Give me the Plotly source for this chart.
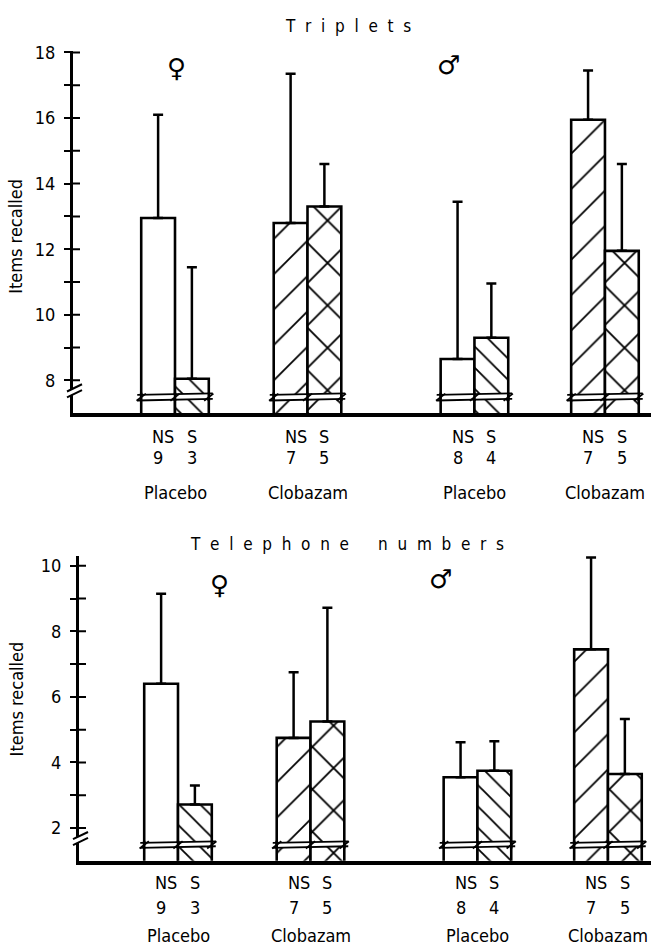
import plotly.graph_objects as go

# ---- data -------------------------------------------------------------
groups = ["Placebo", "Clobazam", "Placebo", "Clobazam"]
subgroups = ["NS", "S"]
n_ns = [9, 7, 8, 7]
n_s = [3, 5, 4, 5]

# Triplets: mean and SD of items recalled
trip_ns_mean = [12.95, 12.8, 8.65, 15.95]
trip_ns_sd = [3.15, 4.55, 4.8, 1.5]
trip_s_mean = [8.05, 13.3, 9.3, 11.95]
trip_s_sd = [3.4, 1.3, 1.65, 2.65]

# Telephone numbers: mean and SD of items recalled
tel_ns_mean = [6.4, 4.75, 3.55, 7.45]
tel_ns_sd = [2.75, 2.0, 1.07, 2.8]
tel_s_mean = [2.72, 5.25, 3.75, 3.65]
tel_s_sd = [0.58, 3.47, 0.9, 1.68]

# ---- layout constants ---------------------------------------------------
W, H = 651, 948
FONT = "DejaVu Sans Condensed, DejaVu Sans, sans-serif"
GROUP_POS = [1.0, 2.0, 3.26, 4.245]   # x position of each NS|S pair
BW = 0.255                            # bar width (x units)
PPU_X = 132.5                         # pixels per x unit
PPU_Y = 33.1                          # pixels per y unit
NS_PATTERN = ["", "/", "", "/"]
S_PATTERN = ["\\", "x", "\\", "x"]
NS_SIZE = [25, 25, 25, 25]
S_SIZE = [15, 30, 15, 30]
NS_SOLIDITY = [0.072, 0.072, 0.072, 0.072]
S_SOLIDITY = [0.12, 0.12, 0.12, 0.12]


def fx(p):
    return p / W


def fy(p):
    return 1 - p / H


def spaced(words, gap="\u00a0\u00a0", word_gap="\u00a0" * 6):
    return word_gap.join(gap.join(w) for w in words)


panels = [
    dict(title=spaced(["Triplets"]), title_xy=(348, 17),
         ns=(trip_ns_mean, trip_ns_sd), s=(trip_s_mean, trip_s_sd),
         ymin=7.0, ymax=18.05, ticks=list(range(8, 19)),
         axis_px=73, first_px=175, base_px=408,
         axbreak=7.67, barbreak=(7.39, 7.56),
         female=(176, 60), male=(448, 57),
         ylabel_y=230, row1=432, row2=453, row3=488),
    dict(title=spaced(["Telephone", "numbers"]), title_xy=(347, 540),
         ns=(tel_ns_mean, tel_ns_sd), s=(tel_s_mean, tel_s_sd),
         ymin=1.0, ymax=10.3, ticks=list(range(2, 11)),
         axis_px=79, first_px=178, base_px=860,
         axbreak=1.67, barbreak=(1.40, 1.55),
         female=(219, 582), male=(440, 575),
         ylabel_y=697, row1=882, row2=907, row3=935),
]


def label(text, x, y, xref="paper", size=18, family=FONT, angle=0):
    return dict(text=text, x=x, y=y, xref=xref, yref="paper", showarrow=False,
                xanchor="center", yanchor="middle", textangle=angle,
                font=dict(family=family, size=size, color="black"))


fig = go.Figure()
shapes = []
annotations = []
layout = {}

for i, pn in enumerate(panels):
    k = "" if i == 0 else "2"
    xname, yname = "x" + k, "y" + k

    # bars: NS left of each pair, S right
    for (mean, sd), side, pat, psize, sol in [
        (pn["ns"], -1, NS_PATTERN, NS_SIZE, NS_SOLIDITY),
        (pn["s"], 1, S_PATTERN, S_SIZE, S_SOLIDITY),
    ]:
        fig.add_trace(go.Bar(
            x=[p + side * BW / 2 for p in GROUP_POS], y=mean, width=BW,
            xaxis=xname, yaxis=yname, showlegend=False,
            marker=dict(color="white", line=dict(color="black", width=2.6),
                        pattern=dict(shape=pat, size=psize, solidity=sol,
                                     fgcolor="black", bgcolor="white", fillmode="replace")),
            error_y=dict(type="data", array=sd, arrayminus=[0] * len(sd), symmetric=False,
                         color="black", thickness=2.5, width=5),
        ))

    x_lo = 1 - (pn["first_px"] - pn["axis_px"]) / PPU_X
    x_hi = 1 + (W - pn["first_px"]) / PPU_X
    top_px = pn["base_px"] - (pn["ymax"] - pn["ymin"]) * PPU_Y
    ydom = [fy(pn["base_px"]), fy(top_px)]
    xdom = [fx(pn["axis_px"]), 1.0]
    tick_text = [str(t) if t % 2 == 0 else "" for t in pn["ticks"]]

    layout["xaxis" + k] = dict(domain=xdom, range=[x_lo, x_hi], anchor=yname,
                               showline=True, linecolor="black", linewidth=3.5,
                               showgrid=False, zeroline=False, showticklabels=False,
                               ticks="", fixedrange=True)
    layout["yaxis" + k] = dict(domain=ydom, range=[pn["ymin"], pn["ymax"]], anchor=xname,
                               showline=True, linecolor="black", linewidth=3,
                               showgrid=False, zeroline=False,
                               tickvals=pn["ticks"], ticktext=tick_text,
                               ticks="outside", ticklen=6, tickwidth=2, tickcolor="black",
                               tickfont=dict(family=FONT, size=18, color="black"),
                               ticklabelstandoff=5)

    # inner half of each tick, so the ticks cross the axis line
    for t in pn["ticks"]:
        shapes.append(dict(type="line", xref=xname + " domain", yref=yname,
                           xsizemode="pixel", xanchor=0, x0=0, x1=7, y0=t, y1=t,
                           line=dict(color="black", width=2), layer="above"))

    # y-axis break marks
    yb = pn["axbreak"]
    g, sl = 0.09, 0.07
    shapes.append(dict(type="path", xref=xname + " domain", yref=yname,
                       xsizemode="pixel", xanchor=0,
                       path=f"M-5,{yb - g - sl} L5,{yb - g + sl} L5,{yb + g + sl} L-5,{yb + g - sl} Z",
                       fillcolor="white", line=dict(width=0), layer="above"))
    for d in (-g, g):
        shapes.append(dict(type="line", xref=xname + " domain", yref=yname,
                           xsizemode="pixel", xanchor=0,
                           x0=-6, x1=9, y0=yb + d - 0.1, y1=yb + d + 0.12,
                           line=dict(color="black", width=2), layer="above"))

    # bar breaks: white gap between two lines across every pair
    lo, hi = pn["barbreak"]
    for p in GROUP_POS:
        left, right = p - BW, p + BW
        shapes.append(dict(type="path", xref=xname, yref=yname,
                           path=f"M{left},{lo} L{right},{lo + 0.04} L{right},{hi + 0.04} L{left},{hi} Z",
                           fillcolor="white", line=dict(width=0), layer="above"))
        for yy in (lo, hi):
            shapes.append(dict(type="line", xref=xname, yref=yname,
                               x0=left - 0.03, x1=right + 0.03, y0=yy - 0.005, y1=yy + 0.045,
                               line=dict(color="black", width=1.8), layer="above"))
        for xe in (left, p, right):
            shapes.append(dict(type="line", xref=xname, yref=yname,
                               x0=xe, x1=xe, y0=lo - 0.02, y1=hi + 0.06,
                               line=dict(color="black", width=2.6), layer="above"))
            shapes.append(dict(type="line", xref=xname, yref=yname,
                               x0=xe - 0.035, x1=xe + 0.035, y0=(lo + hi) / 2 - 0.1,
                               y1=(lo + hi) / 2 + 0.12,
                               line=dict(color="black", width=1.8), layer="above"))

    # panel title, sex symbols, y label
    tx, ty = pn["title_xy"]
    annotations.append(label(pn["title"], fx(tx), fy(ty), size=17))
    for sym, (sx, sy) in (("\u2640", pn["female"]), ("\u2642", pn["male"])):
        annotations.append(label(sym, fx(sx), fy(sy), size=26, family="DejaVu Sans"))
    annotations.append(label("Items recalled", fx(16), fy(pn["ylabel_y"]), angle=-90))

    # category labels under the pairs
    for j, p in enumerate(GROUP_POS):
        for side, sub, n, nudge in ((-1, subgroups[0], n_ns[j], 0.04), (1, subgroups[1], n_s[j], 0.0)):
            xc = p + side * BW / 2
            annotations.append(label(sub, xc + nudge, fy(pn["row1"]), xref=xname))
            annotations.append(label(str(n), xc, fy(pn["row2"]), xref=xname))
        annotations.append(label(groups[j], p, fy(pn["row3"]), xref=xname))

fig.update_layout(
    width=W, height=H,
    margin=dict(l=0, r=0, t=0, b=0),
    paper_bgcolor="white", plot_bgcolor="white",
    barmode="overlay", showlegend=False,
    shapes=shapes, annotations=annotations,
    **layout,
)

fig.write_html("out.html", config={"displayModeBar": False})
